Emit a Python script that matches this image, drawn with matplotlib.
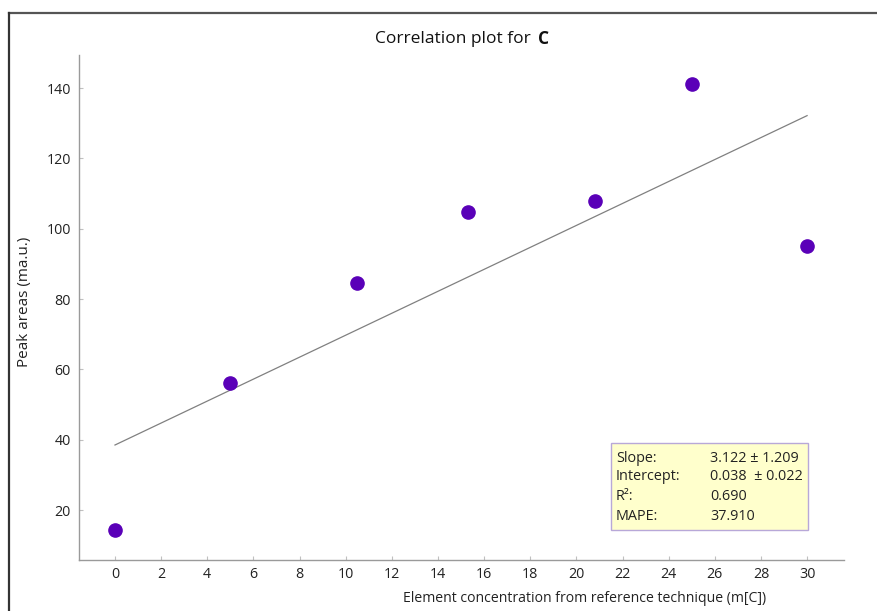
import matplotlib
matplotlib.use("Agg")
import matplotlib.pyplot as plt
from matplotlib.lines import Line2D
from matplotlib.patches import Rectangle
import numpy as np

plt.rcParams['font.family'] = ['Open Sans', 'DejaVu Sans']

# Data
conc = [0.0, 5.0, 10.5, 15.3, 20.8, 25.0, 30.0]
peak_area = [14.3, 56.1, 84.5, 104.7, 107.8, 141.1, 95.0]
fit_slope = 3.122
fit_intercept = 38.5
xticks = list(range(0, 31, 2))
yticks = [20, 40, 60, 80, 100, 120, 140]
stat_labels = ["Slope:", "Intercept:", "R²:", "MAPE:"]
stat_values = ["3.122 ± 1.209", "0.038  ± 0.022", "0.690", "37.910"]

W, H = 877, 611
fig = plt.figure(figsize=(W / 100, H / 100), dpi=100)
fig.patch.set_facecolor("white")

ax = fig.add_axes([79 / W, 1 - 560 / H, (844 - 79) / W, (560 - 55) / H])
ax.set_facecolor("white")

# Fit line
fx = np.array([conc[0], conc[-1]])
ax.plot(fx, fit_slope * fx + fit_intercept, color="#808080", lw=0.9, zorder=2)

# Points
ax.plot(conc, peak_area, "o", color="#5a00b8", markersize=9.5, zorder=3)

ax.set_xlim(-1.56, 31.6)
ax.set_ylim(5.8, 149.4)
ax.set_xticks(xticks)
ax.set_yticks(yticks)
for s in ["top", "right"]:
    ax.spines[s].set_visible(False)
for s in ["left", "bottom"]:
    ax.spines[s].set_color("#9a9a9a")
    ax.spines[s].set_linewidth(1.0)
ax.tick_params(direction="in", length=3, color="#c0c0c0", labelsize=10.3,
               labelcolor="#222222")
ax.tick_params(axis="x", pad=5)
ax.tick_params(axis="y", pad=6)

# Labels
fig.text(25 / W, 1 - 302 / H, "Peak areas (ma.u.)", rotation=90,
         ha="center", va="center", fontsize=11, color="#222222")
fig.text(585 / W, 1 - 598 / H,
         "Element concentration from reference technique (m[C])",
         ha="center", va="center", fontsize=10.1, color="#222222")

# Title
fig.text(531 / W, 1 - 39 / H, "Correlation plot for", ha="right", va="center",
         fontsize=12.5, color="#111111")
fig.text(538 / W, 1 - 39 / H, "C", ha="left", va="center",
         fontsize=12.5, fontweight="bold", color="#111111")

# Stats box
box = Rectangle((611 / W, 1 - 530 / H), (808 - 611) / W, (530 - 443) / H,
                transform=fig.transFigure, facecolor="#ffffcc",
                edgecolor="#b8a8d8", lw=1.0, zorder=5)
fig.add_artist(box)
rows_y = [458, 477, 496, 516]
for lab, val, yy in zip(stat_labels, stat_values, rows_y):
    fig.text(616 / W, 1 - yy / H, lab, ha="left", va="center",
             fontsize=10.4, color="#222222", zorder=6)
    fig.text(710 / W, 1 - yy / H, val, ha="left", va="center",
             fontsize=10.4, color="#222222", zorder=6)

# Outer frame lines (top and left)
fig.add_artist(Line2D([9 / W, 1.0], [1 - 13 / H, 1 - 13 / H],
                      transform=fig.transFigure, color="#555555", lw=1.6))
fig.add_artist(Line2D([9 / W, 9 / W], [0.0, 1 - 13 / H],
                      transform=fig.transFigure, color="#333333", lw=1.6))

fig.savefig("out.png", dpi=100)
